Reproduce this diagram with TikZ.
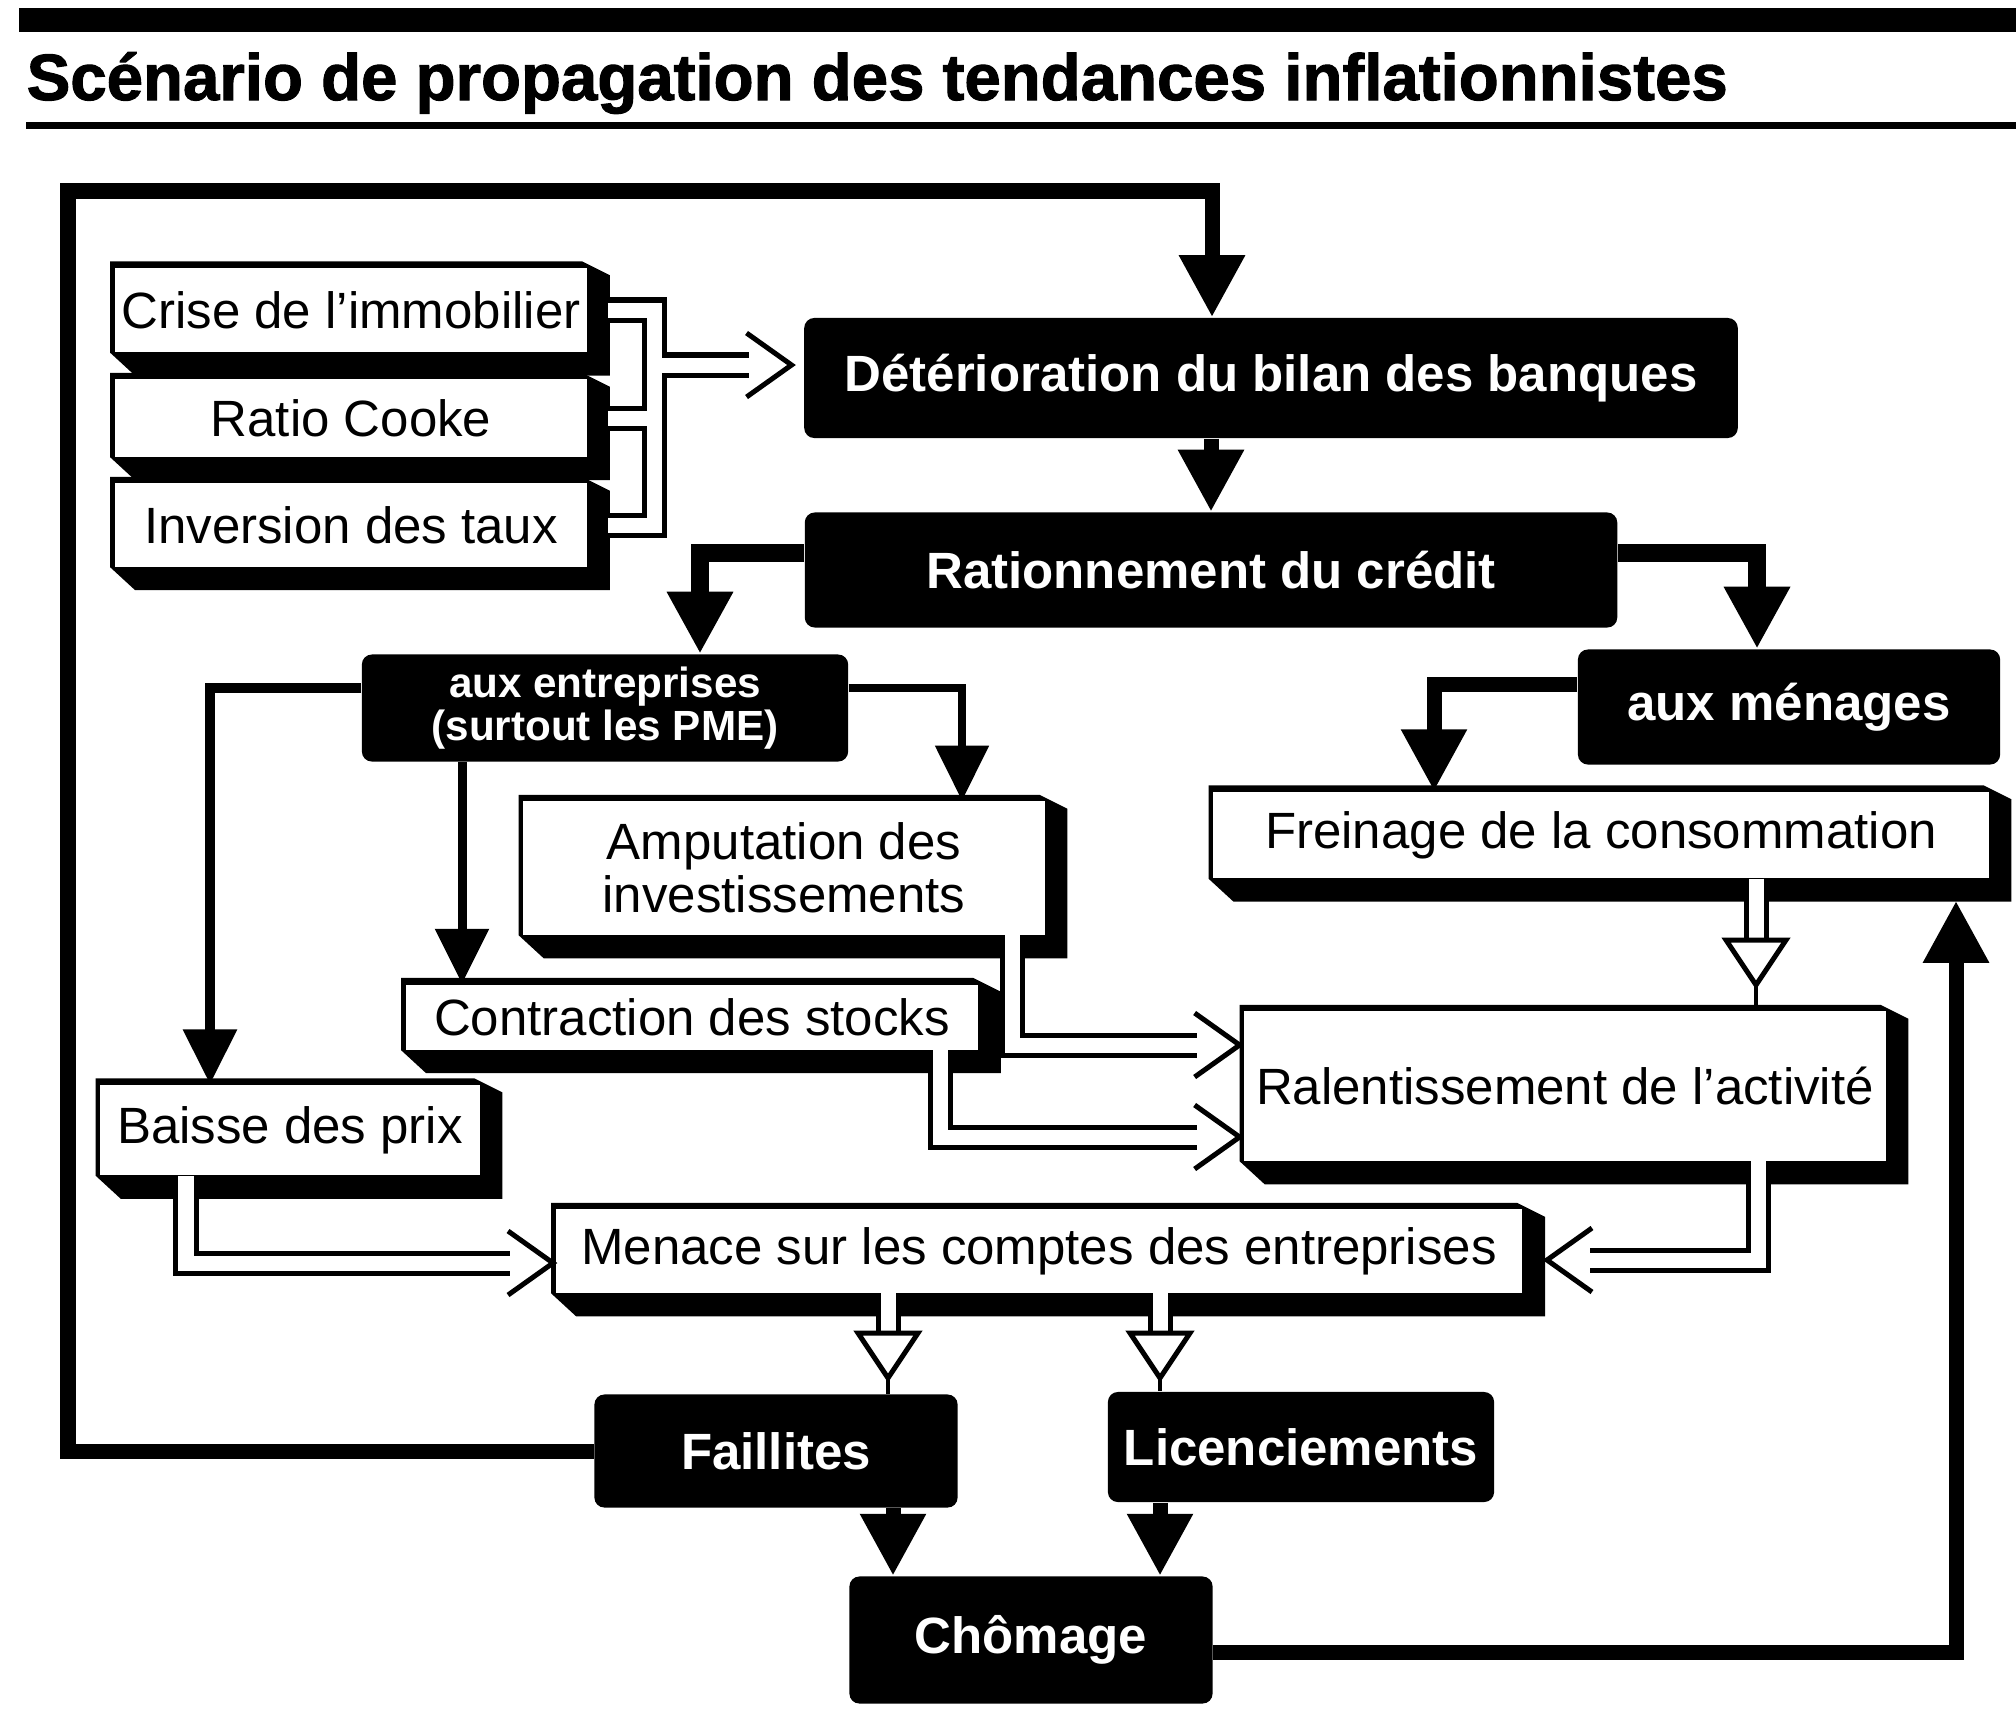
\documentclass[tikz,border=0pt]{standalone}
\usepackage{fontspec}
\setmainfont{Liberation Sans}
\newfontfamily\titlefont[FakeBold=1.6]{Liberation Sans}
\usetikzlibrary{arrows.meta,calc,backgrounds}
\tikzset{
  bbox/.style={fill=black, text=white, font=\bfseries\fontsize{14.5}{16}\selectfont, rounded corners=0.1cm, inner sep=0pt, align=center},
  wnode/.style={fill=white, text=black, font=\fontsize{14.5}{15}\selectfont, inner sep=0pt, align=center},
  fatarrow/.style={line width=0.15cm, -{Triangle[length=0.62cm,width=0.62cm]}},
  midarrow/.style={line width=0.1cm, -{Triangle[length=0.55cm,width=0.52cm]}},
  pipe/.style={draw=black, double=white, line width=0.05cm, double distance=0.15cm},
  chev/.style={draw=black, line width=0.05cm, line join=miter},
  thinlink/.style={line width=0.04cm},
}
\newcommand\wshadow[1]{%
  \begin{scope}[on background layer]
    \fill[black] ([shift={(-4,-6)}]#1.north west) -- ([shift={(-6,-6)}]#1.north east)
      -- ([shift={(22,8)}]#1.north east) -- ([shift={(22,23)}]#1.south east)
      -- ([shift={(21,23)}]#1.south west) -- ([shift={(-4,0)}]#1.south west) -- cycle;
  \end{scope}}
\newcommand\chevR[1]{\draw[chev] ($(#1)+(-45,-32)$) -- (#1) -- ($(#1)+(-45,32)$);}
\newcommand\chevL[1]{\draw[chev] ($(#1)+(45,-32)$) -- (#1) -- ($(#1)+(45,32)$);}
\newcommand\triD[1]{\draw[chev, fill=white] ($(#1)+(-30,0)$) -- ($(#1)+(30,0)$) -- ($(#1)+(0,45)$) -- cycle;}
\begin{document}
\begin{tikzpicture}[x=0.01cm, y=-0.01cm]
\useasboundingbox (0,0) rectangle (2016,1712);
\begin{scope}[on background layer]
  \fill[white] (0,0) rectangle (2016,1712);
\end{scope}
% header
\fill[black] (19,8) rectangle (2016,32);
\fill[black] (26,122) rectangle (2016,129);
\node[anchor=base west, font=\titlefont\bfseries\fontsize{18.6}{20}\selectfont, inner sep=0pt] (title) at (26,100) {Scénario de propagation des tendances inflationnistes};

% white boxes
\node[wnode, minimum width=4.72cm, minimum height=0.84cm] (crise) at (351,310) {Crise de l'immobilier};
\node[wnode, minimum width=4.72cm, minimum height=0.77cm] (ratio) at (351,418) {Ratio Cooke};
\node[wnode, minimum width=4.72cm, minimum height=0.83cm] (inv) at (351,525) {Inversion des taux};
\node[wnode, minimum width=5.21cm, minimum height=1.33cm] (amput) at (784,868) {Amputation des\\investissements};
\node[wnode, minimum width=5.72cm, minimum height=0.65cm] (contr) at (692,1017) {Contraction des stocks};
\node[wnode, minimum width=3.79cm, minimum height=0.90cm] (baisse) at (290,1130) {Baisse des prix};
\node[wnode, minimum width=7.75cm, minimum height=0.86cm] (frein) at (1601,835) {Freinage de la consommation};
\node[wnode, minimum width=6.41cm, minimum height=1.49cm] (ralent) at (1565,1086) {Ralentissement de l'activité};
\node[wnode, minimum width=9.66cm, minimum height=0.83cm] (menace) at (1039,1251) {Menace sur les comptes des entreprises};
\wshadow{crise}\wshadow{ratio}\wshadow{inv}\wshadow{amput}\wshadow{contr}
\wshadow{baisse}\wshadow{frein}\wshadow{ralent}\wshadow{menace}

% black boxes
\node[bbox, minimum width=9.33cm, minimum height=1.20cm] (deter) at (1271,378) {Détérioration du bilan des banques};
\node[bbox, minimum width=8.12cm, minimum height=1.15cm] (ration) at (1211,570) {Rationnement du crédit};
\node[bbox, minimum width=4.86cm, minimum height=1.07cm, font=\bfseries\fontsize{12}{12}\selectfont] (entr) at (605,708) {aux entreprises\\(surtout les PME)};
\node[bbox, minimum width=4.22cm, minimum height=1.15cm] (menag) at (1789,707) {aux ménages};
\node[bbox, minimum width=3.63cm, minimum height=1.13cm] (fail) at (776,1451) {Faillites};
\node[bbox, minimum width=3.86cm, minimum height=1.10cm] (lic) at (1301,1447) {Licenciements};
\node[bbox, minimum width=3.63cm, minimum height=1.27cm] (chom) at (1031,1640) {Chômage};

% feedback loop
\coordinate (lt) at (68,191);
\coordinate (rt) at (1212,191);
\draw[fatarrow] (fail.west) -| (lt) -- (rt) -- (rt |- deter.north);

% solid arrows
\draw[fatarrow] (ration.north |- deter.south) -- (ration.north);
\coordinate (rl) at (700,553);
\coordinate (rr) at (1757,553);
\draw[fatarrow, line width=0.18cm] (rl -| ration.west) -- (rl) -- (rl |- entr.north);
\draw[fatarrow, line width=0.18cm] (rr -| ration.east) -- (rr) -- (rr |- menag.north);
\coordinate (el) at (210,688);
\coordinate (em) at (462,762);
\coordinate (er) at (962,688);
\draw[midarrow] (el -| entr.west) -- (el) -- (el |- baisse.north);
\draw[midarrow, line width=0.09cm] (em |- entr.south) -- (em |- contr.north);
\draw[midarrow, line width=0.08cm] (er -| entr.east) -- (er) -- (er |- amput.north);
\coordinate (ml) at (1434,684);
\draw[fatarrow] (ml -| menag.west) -- (ml) -- (ml |- frein.north);
\coordinate (cr) at (1956,1652);
\draw[fatarrow] (cr -| chom.east) -- (cr) -- ($(cr |- frein.south)+(0,22)$);
\path (fail.south) ++(117,0) coordinate (fx);
\path (lic.south) ++(-141,0) coordinate (lx);
\draw[fatarrow] (fx) -- (fx |- chom.north);
\draw[fatarrow] (lx) -- (lx |- chom.north);

% hollow pipes: left bracket
\coordinate (pc) at (654,310);
\coordinate (pr) at (654,418);
\coordinate (pi) at (654,525);
\coordinate (po) at (654,365);
\coordinate (pt) at ($(po -| deter.west)+(-12,0)$);
\draw[pipe] ($(pc -| crise.east)+(20,0)$) -- (pc) -- (pi) -- ($(pi -| inv.east)+(20,0)$)
            ($(pr -| ratio.east)+(20,0)$) -- (pr)
            (po) -- ($(pt)+(-43,0)$);
\chevR{pt}

% Amputation -> Ralentissement
\coordinate (au) at (1012,1045);
\coordinate (at) at ($(au -| ralent.west)+(-4,0)$);
\draw[pipe] (au |- amput.south) -- (au) -- ($(at)+(-43,0)$);
\chevR{at}
% Contraction -> Ralentissement
\coordinate (cu) at (940,1137);
\coordinate (ct) at ($(cu -| ralent.west)+(-4,0)$);
\draw[pipe] (cu |- contr.south) -- (cu) -- ($(ct)+(-43,0)$);
\chevR{ct}
% Baisse -> Menace
\coordinate (bu) at (186,1263);
\coordinate (bt) at ($(bu -| menace.west)+(-2,0)$);
\draw[pipe] (bu |- baisse.south) -- (bu) -- ($(bt)+(-43,0)$);
\chevR{bt}
% Ralentissement -> Menace
\coordinate (ru) at (1758,1260);
\coordinate (rtp) at ($(ru -| menace.east)+(24,0)$);
\draw[pipe] (ru |- ralent.south) -- (ru) -- ($(rtp)+(43,0)$);
\chevL{rtp}
% Freinage -> Ralentissement
\coordinate (fu) at (1756,940);
\draw[pipe] (fu |- frein.south) -- (fu);
\triD{fu}
\draw[thinlink] ($(fu)+(0,45)$) -- ($(fu |- ralent.north)+(0,-6)$);
% Menace -> Faillites / Licenciements
\coordinate (mf) at (888,1333);
\coordinate (mk) at (1160,1333);
\draw[pipe] (mf |- menace.south) -- (mf);
\draw[pipe] (mk |- menace.south) -- (mk);
\triD{mf}\triD{mk}
\draw[thinlink] ($(mf)+(0,45)$) -- (mf |- fail.north);
\draw[thinlink] ($(mk)+(0,45)$) -- (mk |- lic.north);
\end{tikzpicture}
\end{document}
